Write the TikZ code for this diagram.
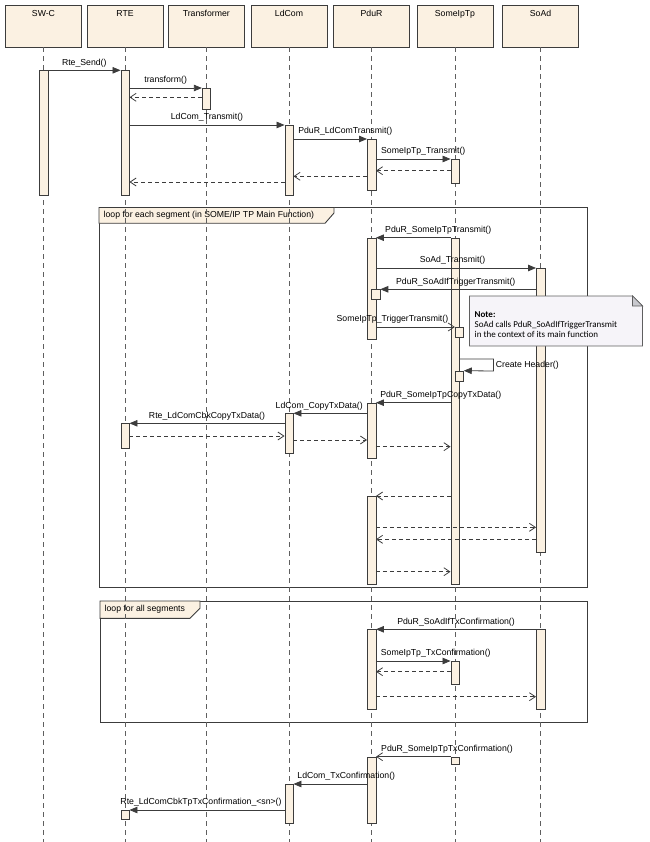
\documentclass[tikz,border=0pt]{standalone}
\usepackage{fontspec}
\setmainfont{Liberation Sans}
\newfontfamily\notefont{Carlito}
\usetikzlibrary{arrows.meta}

\definecolor{actfill}{RGB}{251,241,226}
\definecolor{lineclr}{RGB}{60,60,60}
\definecolor{lifeclr}{RGB}{95,95,95}
\definecolor{notefill}{RGB}{246,244,249}
\definecolor{foldfill}{RGB}{200,200,206}

\tikzset{
	head/.style={draw=lineclr, fill=actfill, anchor=north, minimum width=76pt, inner xsep=2pt, inner ysep=4.5pt, text height=7pt, text depth=26pt, font=\fontsize{8.7}{10}\selectfont},
	act/.style={draw=lineclr, fill=actfill, anchor=north, minimum width=8.5pt, inner sep=0pt},
	life/.style={draw=lifeclr, line width=0.8pt, dash pattern=on 5pt off 4pt},
	call/.style={draw=lineclr, line width=0.8pt, -{Triangle[length=8pt,width=6.5pt]}},
	async/.style={draw=lineclr, line width=0.8pt, -{Straight Barb[length=6pt,width=8pt]}},
	ret/.style={draw=lineclr, line width=0.8pt, dash pattern=on 4pt off 3pt, -{Straight Barb[length=6pt,width=8pt]}},
	lbl/.style={midway, above=1.5pt, inner sep=1.5pt, font=\fontsize{8.7}{10}\selectfont},
	selflbl/.style={midway, right, inner sep=2pt, font=\fontsize{8.7}{10}\selectfont},
	frame/.style={draw=lineclr, line width=0.9pt},
	looplbl/.style={anchor=west, inner sep=0pt, font=\fontsize{8.7}{10}\selectfont},
	note/.style={draw=lifeclr, fill=notefill, line width=0.7pt},
	fold/.style={draw=lifeclr, fill=foldfill, line width=0.7pt},
	notetext/.style={anchor=north west, align=left, inner sep=0pt, font=\notefont\fontsize{9}{10}\selectfont}
}

\newcommand{\actbar}[5][0]{\node[act, minimum height={#5-#4}, xshift=#1] (#2) at (#3.south |- 0,#4) {};}

\begin{document}
\begin{tikzpicture}[x=1pt,y=-1pt]
	\useasboundingbox (0,0) rectangle (649,842);
	\coordinate (bottom) at (0,842);

	\draw[frame] (99,207.5) rectangle (587,587.7);
	\draw[frame, fill=actfill] (99,207.5) -- (334,207.5) -- (334,213) -- (325,223.3) -- (99,223.3) -- cycle;
	\node[looplbl] (loop1) at (103.5,215.5) {loop for each segment (in SOME/IP TP Main Function)};
	\draw[frame] (100,601) rectangle (587.5,722.3);
	\draw[frame, fill=actfill] (100,601) -- (200,601) -- (200,608.3) -- (190,618.3) -- (100,618.3) -- cycle;
	\node[looplbl] (loop2) at (104.5,609.5) {loop for all segments};

	\node[head] (swc) at (43.5,5) {SW-C};
	\node[head] (rte) at (125,5) {RTE};
	\node[head] (trf) at (206.3,5) {Transformer};
	\node[head] (ldc) at (289,5) {LdCom};
	\node[head] (pdur) at (371.5,5) {PduR};
	\node[head] (sotp) at (455,5) {SomeIpTp};
	\node[head] (soad) at (540.5,5) {SoAd};
	\foreach \n in {swc,rte,trf,ldc,pdur,sotp,soad}
		\draw[life] (\n.south) -- (\n.south |- bottom);

	\actbar{swcA}{swc}{70.3}{195}
	\actbar{rteA}{rte}{70.3}{195}
	\actbar{trfA}{trf}{88}{109}
	\actbar{ldcA}{ldc}{125}{195}
	\actbar{pdurA}{pdur}{139}{190}
	\actbar{sotpA}{sotp}{159}{183}
	\actbar{pdurB}{pdur}{237.7}{339.3}
	\actbar{sotpB}{sotp}{237.7}{584}
	\actbar{soadB}{soad}{268}{552}
	\actbar[4.3]{pdurC}{pdur}{289.3}{299.3}
	\actbar[4.3]{sotpC}{sotp}{327}{337.3}
	\actbar[4.3]{sotpD}{sotp}{370.7}{380.7}
	\actbar{pdurD}{pdur}{402.7}{458.3}
	\actbar{ldcD}{ldc}{413.3}{452.7}
	\actbar{rteD}{rte}{423.3}{448.3}
	\actbar{pdurE}{pdur}{496}{584}
	\actbar{pdurF}{pdur}{629.3}{709}
	\actbar{soadF}{soad}{629.3}{709}
	\actbar{sotpF}{sotp}{661}{684.3}
	\actbar{sotpG}{sotp}{756.7}{764.3}
	\actbar{pdurG}{pdur}{756.7}{823.3}
	\actbar{ldcG}{ldc}{784}{823}
	\actbar{rteG}{rte}{810}{819.3}

	\draw[call] (swcA.east |- 0,70.3) -- (rteA.west |- 0,70.3) node[lbl] {Rte\_Send()};
	\draw[call] (rteA.east |- 0,88) -- (trfA.west |- 0,88) node[lbl] {transform()};
	\draw[ret] (trfA.west |- 0,97.3) -- (rteA.east |- 0,97.3);
	\draw[call] (rteA.east |- 0,125) -- (ldcA.west |- 0,125) node[lbl] {LdCom\_Transmit()};
	\draw[call] (ldcA.east |- 0,139) -- (pdurA.west |- 0,139) node[lbl, xshift=15pt] {PduR\_LdComTransmit()};
	\draw[call] (pdurA.east |- 0,159) -- (sotpA.west |- 0,159) node[lbl, xshift=10pt] {SomeIpTp\_Transmit()};
	\draw[ret] (sotpA.west |- 0,170.7) -- (pdurA.east |- 0,170.7);
	\draw[ret] (pdurA.west |- 0,176.3) -- (ldcA.east |- 0,176.3);
	\draw[ret] (ldcA.west |- 0,182) -- (rteA.east |- 0,182);

	\draw[call] (sotpB.west |- 0,237.7) -- (pdurB.east |- 0,237.7) node[lbl, xshift=25pt] {PduR\_SomeIpTpTransmit()};
	\draw[call] (pdurB.east |- 0,268) -- (soadB.west |- 0,268) node[lbl, xshift=-3.5pt] {SoAd\_Transmit()};
	\draw[call] (soadB.west |- 0,289.3) -- (pdurC.east |- 0,289.3) node[lbl, xshift=-2.4pt] {PduR\_SoAdIfTriggerTransmit()};
	\draw[async] (pdurB.east |- 0,327) -- (sotpC.west |- 0,327) node[lbl, xshift=-23pt] {SomeIpTp\_TriggerTransmit()};
	\draw[call] (sotpB.east |- 0,359) -- ++(34,0) -- ++(0,12) node[selflbl] {Create Header()} -- (sotpD.north east);
	\draw[call] (sotpB.west |- 0,402.7) -- (pdurD.east |- 0,402.7) node[lbl, xshift=27.5pt] {PduR\_SomeIpTpCopyTxData()};
	\draw[call] (pdurD.west |- 0,413.3) -- (ldcD.east |- 0,413.3) node[lbl, xshift=-11pt] {LdCom\_CopyTxData()};
	\draw[call] (ldcD.west |- 0,423.3) -- (rteD.east |- 0,423.3) node[lbl] {Rte\_LdComCbkCopyTxData()};
	\draw[ret] (rteD.east |- 0,436) -- (ldcD.west |- 0,436);
	\draw[ret] (ldcD.east |- 0,440) -- (pdurD.west |- 0,440);
	\draw[ret] (pdurD.east |- 0,446.7) -- (sotpB.west |- 0,446.7);
	\draw[ret] (sotpB.west |- 0,496) -- (pdurE.east |- 0,496);
	\draw[ret] (pdurE.east |- 0,527.3) -- (soadB.west |- 0,527.3);
	\draw[ret] (soadB.west |- 0,539.3) -- (pdurE.east |- 0,539.3);
	\draw[ret] (pdurE.east |- 0,571.7) -- (sotpB.west |- 0,571.7);

	\draw[call] (soadF.west |- 0,629.3) -- (pdurF.east |- 0,629.3) node[lbl] {PduR\_SoAdIfTxConfirmation()};
	\draw[call] (pdurF.east |- 0,661) -- (sotpF.west |- 0,661) node[lbl, xshift=22.5pt] {SomeIpTp\_TxConfirmation()};
	\draw[ret] (sotpF.west |- 0,671.7) -- (pdurF.east |- 0,671.7);
	\draw[ret] (pdurF.east |- 0,696.7) -- (soadF.west |- 0,696.7);

	\draw[async] (sotpG.west |- 0,756.7) -- (pdurG.east |- 0,756.7) node[lbl, xshift=33.7pt] {PduR\_SomeIpTpTxConfirmation()};
	\draw[call] (pdurG.west |- 0,784) -- (ldcG.east |- 0,784) node[lbl, xshift=16pt] {LdCom\_TxConfirmation()};
	\draw[call] (ldcG.west |- 0,810) -- (rteG.east |- 0,810) node[lbl, xshift=-6pt] {Rte\_LdComCbkTpTxConfirmation\_<sn>()};

	\coordinate (noteNW) at (469.5,296);
	\coordinate (noteSE) at (642.5,346);
	\filldraw[note] (noteNW) -- (632.5,296) -- (642.5,306) -- (noteSE) -- (noteNW |- noteSE) -- cycle;
	\filldraw[fold] (632.5,296) -- (632.5,306) -- (642.5,306) -- cycle;
	\node[notetext] (notetxt) at (474.5,311.3) {\textbf{Note:}\\SoAd calls PduR\_SoAdIfTriggerTransmit\\in the context of its main function};
\end{tikzpicture}
\end{document}
